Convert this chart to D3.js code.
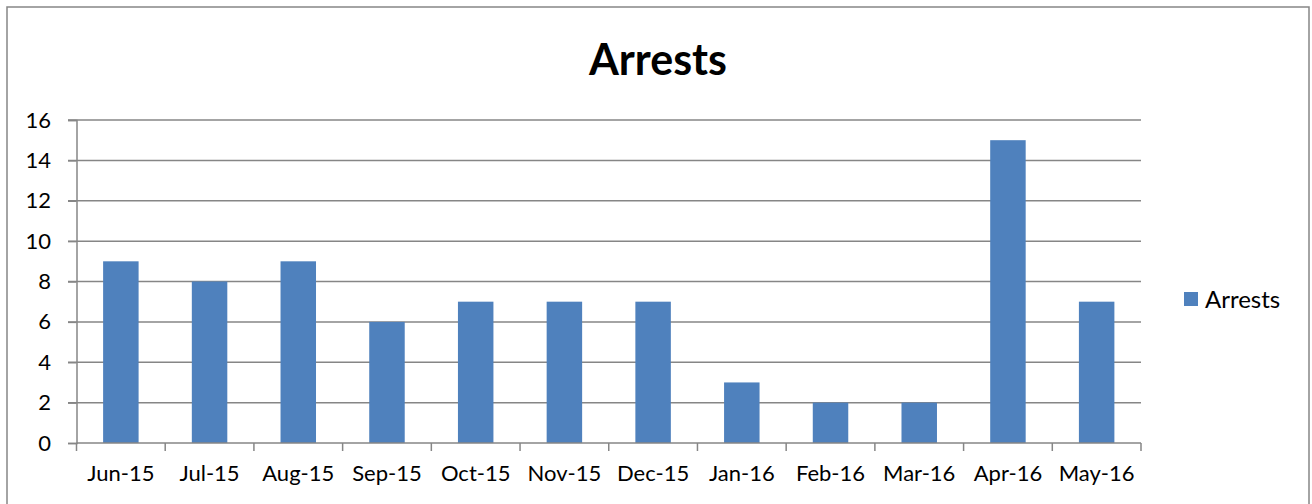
<!DOCTYPE html>
<html><head><meta charset="utf-8">
<script src="https://cdn.jsdelivr.net/npm/d3@7"></script>
<style>body{margin:0;background:#fff}svg{display:block}text{font-family:Lato,"Open Sans",sans-serif;fill:#000}</style>
</head><body>
<svg id="c" width="1312" height="504"></svg>
<script>
const categories = ["Jun-15","Jul-15","Aug-15","Sep-15","Oct-15","Nov-15","Dec-15","Jan-16","Feb-16","Mar-16","Apr-16","May-16"];
const arrests = [9,8,9,6,7,7,7,3,2,2,15,7];
const yTicks = [0,2,4,6,8,10,12,14,16];
const seriesName = "Arrests";
const chartTitle = "Arrests";

(function(){
const svg = d3.select("#c");
svg.append("rect").attr("x",7).attr("y",7).attr("width",1302).attr("height",505)
  .attr("fill","#fff").attr("stroke","#868686").attr("stroke-width",1.5);

const pL = 76.5, pR = 1141, pT = 120, pB = 443;
const x = d3.scaleBand().domain(categories).range([pL,pR]).paddingInner(0.6).paddingOuter(0.3);
const xb = d3.scalePoint().domain(d3.range(categories.length+1)).range([pL,pR]);
const y = d3.scaleLinear().domain([0,16]).range([pB,pT]);

svg.append("g").selectAll("line").data(yTicks.filter(d=>d>0)).join("line")
  .attr("x1",68).attr("x2",pR).attr("y1",d=>y(d)).attr("y2",d=>y(d))
  .attr("stroke","#868686").attr("stroke-width",1.5);

svg.append("g").selectAll("rect").data(arrests).join("rect")
  .attr("x",(d,i)=>x(categories[i])).attr("width",x.bandwidth())
  .attr("y",d=>y(d)).attr("height",d=>y(0)-y(d))
  .attr("fill","#4F81BD");

const ya = svg.append("g").attr("transform",`translate(${pL},0)`)
  .call(d3.axisLeft(y).tickValues(yTicks).tickSize(8.5).tickPadding(17).tickFormat(d3.format("d")));
ya.select(".domain").attr("stroke","#868686").attr("stroke-width",1.5);
ya.selectAll(".tick line").attr("stroke","#868686").attr("stroke-width",1.5);
ya.selectAll("text").style("font-size","22px").attr("fill","#000");

svg.append("line").attr("x1",pL).attr("x2",pR).attr("y1",pB).attr("y2",pB)
  .attr("stroke","#868686").attr("stroke-width",1.5);
svg.append("g").selectAll("line").data(d3.range(categories.length+1)).join("line")
  .attr("x1",d=>xb(d)).attr("x2",d=>xb(d)).attr("y1",pB).attr("y2",pB+8)
  .attr("stroke","#868686").attr("stroke-width",1.5);
svg.append("g").selectAll("text").data(categories).join("text")
  .attr("x",d=>x(d)+x.bandwidth()/2).attr("y",481).attr("text-anchor","middle")
  .style("font-size","22px").text(d=>d);

svg.append("text").attr("x",658).attr("y",75).attr("text-anchor","middle")
  .style("font-size","43px").style("font-weight","bold").text(chartTitle);

svg.append("rect").attr("x",1184).attr("y",292).attr("width",14).attr("height",14).attr("fill","#4F81BD");
svg.append("text").attr("x",1205).attr("y",308).style("font-size","24px").text(seriesName);
})();
</script>
</body></html>
